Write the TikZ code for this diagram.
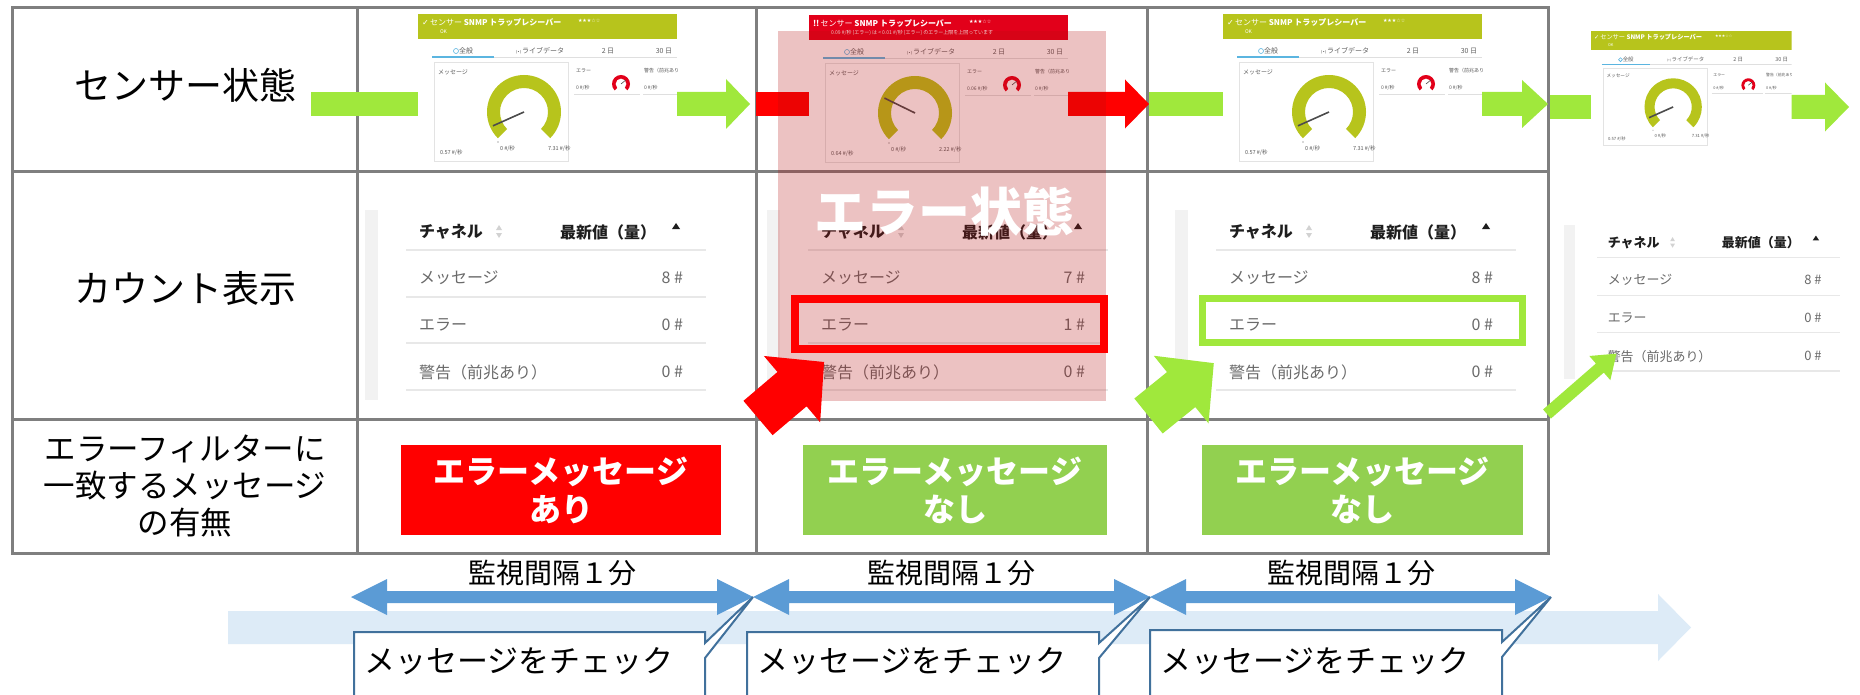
\documentclass[tikz,border=0pt]{standalone}
\usepackage{fontspec}
\setmainfont{Noto Sans CJK JP}
\newfontfamily\symf{DejaVu Sans}
\definecolor{gridgray}{HTML}{7F7F7F}
\definecolor{olive}{HTML}{B7C41C}
\definecolor{prtgred}{HTML}{E2001A}
\definecolor{agreen}{HTML}{A0E83C}
\definecolor{ared}{HTML}{FF0000}
\definecolor{boxgreen}{HTML}{92D050}
\definecolor{mblue}{HTML}{5B9BD5}
\definecolor{lblue}{HTML}{DDEBF7}
\definecolor{callb}{HTML}{41719C}
\definecolor{tabblue}{HTML}{5BB5E0}
\definecolor{ovl}{HTML}{B70F0F}
\definecolor{thdr}{HTML}{1E1E1E}
\definecolor{trowc}{HTML}{6A6A6A}
\newcommand{\fsz}[2]{\fontsize{#1}{#2}\selectfont}
% block arrow: tail, angle, length, shaft width, head width, head length, colour
\newcommand{\blockarr}[7]{\begin{scope}[shift={#1},rotate=#2]
\fill[#7] (0,-#4/2) -- (#3-#6,-#4/2) -- (#3-#6,-#5/2) -- (#3,0) -- (#3-#6,#5/2) -- (#3-#6,#4/2) -- (0,#4/2) -- cycle;
\end{scope}}
% double arrow: left tip, length
\newcommand{\dblarr}[2]{\begin{scope}[shift={#1}]
\fill[mblue] (0,0) -- (36,-18) -- (36,-6) -- (#2-36,-6) -- (#2-36,-18) -- (#2,0) -- (#2-36,18) -- (#2-36,6) -- (36,6) -- (36,18) -- cycle;
\end{scope}}
% sensor panel
\newcommand{\prtgpanel}[8]{%
\begin{scope}[transform shape,#1]
\clip (0,0) rectangle (259,149);
\fill[white] (0,0) rectangle (259,149);
\fill[#2] (0,0) rectangle (259,25);
\node[anchor=west,text=white,font=\fsz{8}{9}] (title) at (4,8) {#3\,センサー \textbf{SNMP トラップレシーバー}};
\node[anchor=west,text=white,font=\symf\fsz{5}{6}] (stars) at (160,7) {★★★☆☆};
\node[anchor=west,text=white,font=\fsz{5}{6}] (status) at (22,18) {#4};
\draw[gray!25,line width=0.8] (14,43) -- (259,43);
\draw[tabblue,line width=1.6] (14,43) -- (76,43);
\draw[tabblue,line width=0.6] (38,37) circle[radius=2.5];
\node[font=\fsz{7}{8},text=gray!75!black] (tab1) at (48,37) {全般};
\node[font=\fsz{7}{8},text=gray!75!black] (tab2) at (122,37) {\symf\fsz{4}{5}(•)\,\fsz{7}{8}\rmfamily ライブデータ};
\node[font=\fsz{7}{8},text=gray!75!black] (tab3) at (190,37) {2 日};
\node[font=\fsz{7}{8},text=gray!75!black] (tab4) at (246,37) {30 日};
\draw[gray!22,line width=0.8] (16,48) rectangle (150,147);
\node[anchor=west,font=\fsz{6}{7},text=gray!70!black] (msg) at (20,58) {メッセージ};
\fill[olive] (106,98) ++(-225:37) arc[start angle=-225,end angle=45,radius=37] -- ++(225:13) arc[start angle=45,end angle=-225,radius=24] -- cycle;
\draw[gray!60!black,line width=1.6] (106,98) -- ++(#5:34);
\fill[gray!60] (80,128) circle[radius=0.8];
\node[anchor=west,font=\fsz{5.5}{6},text=gray!70!black] (v1) at (22,139) {#6};
\node[anchor=west,font=\fsz{5.5}{6},text=gray!70!black] (v0) at (82,135) {0 \#/秒};
\node[anchor=west,font=\fsz{5.5}{6},text=gray!70!black] (v2) at (130,135) {#7};
\node[anchor=west,font=\fsz{5}{6},text=gray!70!black] (el) at (158,57) {エラー};
\fill[prtgred] (203,70) ++(-225:9) arc[start angle=-225,end angle=45,radius=9] -- ++(225:3.5) arc[start angle=45,end angle=-225,radius=5.5] -- cycle;
\draw[gray!60!black,line width=0.6] (203,70) -- ++(-40:6);
\node[anchor=west,font=\fsz{5}{6},text=gray!70!black] (ev) at (158,74) {#8};
\node[anchor=west,font=\fsz{5}{6},text=gray!70!black] (wl) at (226,57) {警告（前兆あり）};
\node[anchor=west,font=\fsz{5}{6},text=gray!70!black] (wv) at (226,74) {0 \#/秒};
\draw[gray!25,line width=0.8] (156,80) -- (222,80) (225,80) -- (259,80);
\end{scope}}
% count table
\newcommand{\counttable}[4]{%
\begin{scope}[transform shape,#1]
\fill[gray!10] (0,0) rectangle (13,190);
\node[anchor=west,font=\fsz{16}{18}\bfseries,text=thdr] (ch) at (54,22) {チャネル};
\fill[gray!35] (131,20) -- (137,20) -- (134,15) -- cycle;
\fill[gray!35] (131,23) -- (137,23) -- (134,28) -- cycle;
\node[anchor=west,font=\fsz{16}{18}\bfseries,text=thdr] (lv) at (195,22) {最新値（量）};
\fill[thdr] (307,19) -- (315,19) -- (311,13) -- cycle;
\draw[gray!18,line width=1.5] (41,40) -- (341,40) (41,87) -- (341,87) (41,133) -- (341,133) (41,180) -- (341,180);
\node[anchor=west,font=\fsz{16}{18},text=trowc] (r1) at (54,68) {メッセージ};
\node[anchor=east,font=\fsz{16}{18},text=trowc] (c1) at (318,68) {#2};
\node[anchor=west,font=\fsz{16}{18},text=trowc] (r2) at (54,115) {エラー};
\node[anchor=east,font=\fsz{16}{18},text=trowc] (c2) at (318,115) {#3};
\node[anchor=west,font=\fsz{16}{18},text=trowc] (r3) at (54,162) {警告（前兆あり）};
\node[anchor=east,font=\fsz{16}{18},text=trowc] (c3) at (318,162) {#4};
\end{scope}}
\tikzset{
  gridline/.style={draw=gridgray,line width=3pt},
  label/.style={font=\fsz{37}{44},text=black},
  msgbox/.style={minimum height=90pt,font=\fsz{32}{38}\bfseries,text=white,align=center},
  callout/.style={draw=callb,line width=2pt,fill=white,line join=miter},
  calltext/.style={anchor=west,font=\fsz{31}{36},text=black},
  intlabel/.style={font=\fsz{28}{32},text=black}
}
\begin{document}
\begin{tikzpicture}[x=1pt,y=-1pt,every node/.style={inner sep=0pt,outer sep=0pt}]
\useasboundingbox (0,0) rectangle (1860,695);
\clip (0,0) rectangle (1860,695);
\fill[white] (0,0) rectangle (1860,695);
% timeline background arrow
\coordinate (tl) at (228,627.5);
\blockarr{(tl)}{0}{1463}{33}{67}{33}{lblue}
% table grid
\draw[gridline] (12,8) rectangle (1548,553);
\draw[gridline] (12,172) -- (1548,172) (12,419) -- (1548,419);
\draw[gridline] (357,8) -- (357,553) (756,8) -- (756,553) (1147,8) -- (1147,553);
% row labels
\node[label] (lab1) at (185,85) {センサー状態};
\node[label] (lab2) at (185,288) {カウント表示};
\node[align=center,font=\fsz{31.5}{37},text=black] (lab3) at (185,486) {エラーフィルターに\\一致するメッセージ\\の有無};
% row 1 arrows
\fill[agreen] (311,92) rectangle (420,116);
\coordinate (a1) at (676,104);
\blockarr{(a1)}{0}{74}{24}{50}{24}{agreen}
\fill[ared] (756,92) rectangle (812,116);
\coordinate (a2) at (1064,104);
\blockarr{(a2)}{0}{85}{24}{49}{24}{ared}
\fill[agreen] (1149,92) rectangle (1225,116);
\coordinate (a3) at (1479,104);
\blockarr{(a3)}{0}{69}{24}{48}{26}{agreen}
\fill[agreen] (1550,95) rectangle (1593,119);
\coordinate (a4) at (1790,107);
\blockarr{(a4)}{0}{59}{24}{49}{24}{agreen}
% sensor panels
\prtgpanel{shift={(418,14)},name prefix=pA-}{olive}{{\symf ✓}}{OK}{156}{0.57 \#/秒}{7.31 \#/秒}{0 \#/秒}
\prtgpanel{shift={(809,15)},name prefix=pB-}{prtgred}{\textbf{!!}}{0.09 \#/秒 (エラー) は < 0.01 \#/秒 (エラー) のエラー上限を上回っています}{206}{0.64 \#/秒}{2.22 \#/秒}{0.06 \#/秒}
\prtgpanel{shift={(1223,14)},name prefix=pC-}{olive}{{\symf ✓}}{OK}{156}{0.57 \#/秒}{7.31 \#/秒}{0 \#/秒}
\prtgpanel{shift={(1591,31)},scale=0.775,name prefix=pD-}{olive}{{\symf ✓}}{OK}{156}{0.57 \#/秒}{7.31 \#/秒}{0 \#/秒}
% count tables
\counttable{shift={(365,210)},name prefix=tA-}{8 \#}{0 \#}{0 \#}
\counttable{shift={(767,210)},name prefix=tB-}{7 \#}{1 \#}{0 \#}
\counttable{shift={(1175,210)},name prefix=tC-}{8 \#}{0 \#}{0 \#}
\counttable{shift={(1564,225)},scale=0.81,name prefix=tD-}{8 \#}{0 \#}{0 \#}
% error overlay
\fill[ovl,fill opacity=0.25] (778,31) rectangle (1106,401);
\node[font=\fsz{52}{60}\bfseries,text=white] (errst) at (944,212) {エラー状態};
% highlight boxes
\draw[ared,line width=8pt] (795,299) rectangle (1104,349);
\draw[agreen,line width=7pt] (1202.5,298.5) rectangle (1522.5,342.5);
% diagonal arrows
\coordinate (d1) at (758,418);
\blockarr{(d1)}{40.3}{86.6}{45}{87}{42}{ared}
\coordinate (d2) at (1148.5,416);
\blockarr{(d2)}{39}{84}{45}{87}{42}{agreen}
\coordinate (d3) at (1547,414);
\blockarr{(d3)}{41}{92}{12}{32}{22}{agreen}
% row 3 message boxes
\node[msgbox,fill=ared,minimum width=320pt] (mA) at (561,490) {エラーメッセージ\\あり};
\node[msgbox,fill=boxgreen,minimum width=304pt] (mB) at (955,490) {エラーメッセージ\\なし};
\node[msgbox,fill=boxgreen,minimum width=321pt] (mC) at (1362.5,490) {エラーメッセージ\\なし};
% interval arrows
\coordinate (m0) at (351,597);
\coordinate (m1) at (753,597);
\coordinate (m2) at (1150,597);
\coordinate (m3) at (1551,597);
\dblarr{(m0)}{402}
\dblarr{(m1)}{397}
\dblarr{(m2)}{401}
\node[intlabel] (iA) at (552,573) {監視間隔１分};
\node[intlabel] (iB) at (951,573) {監視間隔１分};
\node[intlabel] (iC) at (1351,573) {監視間隔１分};
% callouts
\draw[callout] (354,632) -- (705,632) -- (705,643) -- (m1) -- (705,658) -- (705,720) -- (354,720) -- cycle;
\draw[callout] (747,632) -- (1099,632) -- (1099,643) -- (m2) -- (1099,658) -- (1099,720) -- (747,720) -- cycle;
\draw[callout] (1150,630) -- (1502,630) -- (1502,642) -- (m3) -- (1502,657) -- (1502,720) -- (1150,720) -- cycle;
\node[calltext] (cA) at (364,661) {メッセージをチェック};
\node[calltext] (cB) at (757,661) {メッセージをチェック};
\node[calltext] (cC) at (1160,661) {メッセージをチェック};
\end{tikzpicture}
\end{document}
